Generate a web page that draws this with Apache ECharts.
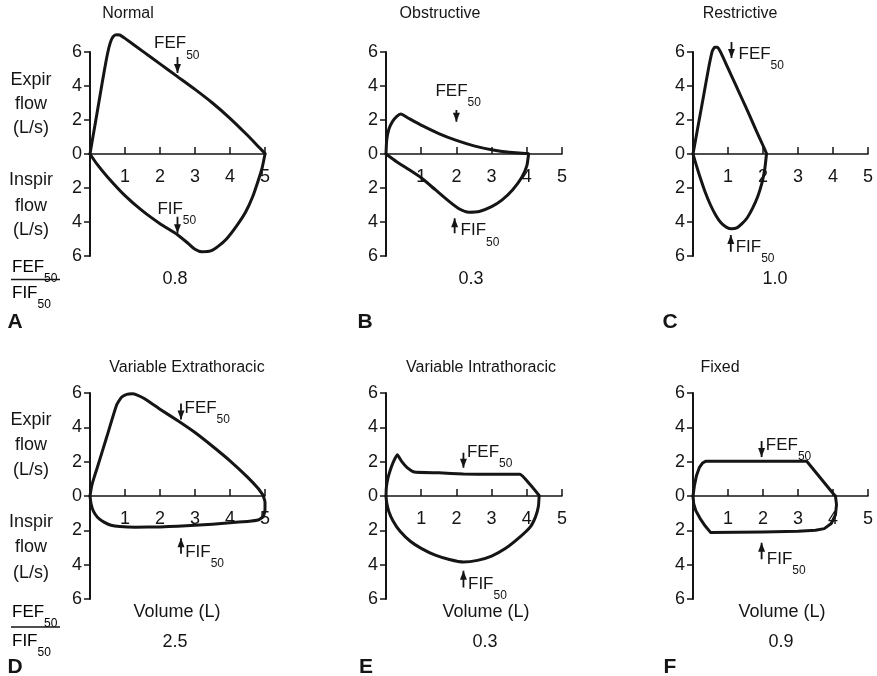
<!DOCTYPE html>
<html><head><meta charset="utf-8">
<script src="https://cdn.jsdelivr.net/npm/echarts@6/dist/echarts.min.js"></script>
<style>html,body{margin:0;padding:0;background:#fff}#c{width:877px;height:676px}</style>
</head><body><div id="c"></div>
<script>
// ---------- data ----------
const panelTitles = ['Normal', 'Obstructive', 'Restrictive', 'Variable Extrathoracic', 'Variable Intrathoracic', 'Fixed'];
const panelLetters = ['A', 'B', 'C', 'D', 'E', 'F'];
const ratioValues = ['0.8', '0.3', '1.0', '2.5', '0.3', '0.9'];
const volumeTicks = [1, 2, 3, 4, 5];
const flowTicks = [-6, -4, -2, 0, 2, 4, 6];

// expiratory (positive) and inspiratory (negative) limbs: [volume L, flow L/s]
const expNormal = [[0,0],[0.1,1.2],[0.2,2.4],[0.3,3.6],[0.4,4.8],[0.5,5.9],[0.58,6.55],[0.66,6.9],[0.75,7.02],[0.85,7.0],[1.0,6.8],[1.5,6.05],[2.0,5.3],[2.5,4.55],[3.0,3.8],[3.5,3.0],[4.0,2.1],[4.5,1.1],[4.85,0.35],[5.0,0.03]];
const inspNormal = [[0,0],[0.2,-0.6],[0.5,-1.35],[1.0,-2.45],[1.5,-3.35],[2.0,-4.1],[2.5,-4.75],[2.8,-5.25],[3.0,-5.6],[3.2,-5.75],[3.45,-5.7],[3.65,-5.45],[3.9,-5.0],[4.2,-4.2],[4.45,-3.4],[4.65,-2.5],[4.8,-1.6],[4.92,-0.8],[5.0,0]];
const expObstructive = [[0,0],[0.02,0.8],[0.08,1.45],[0.18,1.9],[0.3,2.2],[0.42,2.35],[0.6,2.15],[0.8,1.92],[1.0,1.7],[1.5,1.2],[2.0,0.8],[2.5,0.48],[3.0,0.25],[3.5,0.1],[4.0,0.03],[4.05,0]];
const inspObstructive = [[0,0],[0.3,-0.45],[0.6,-0.85],[1.0,-1.4],[1.4,-2.1],[1.8,-2.8],[2.1,-3.25],[2.35,-3.42],[2.65,-3.38],[3.0,-3.1],[3.3,-2.7],[3.6,-2.1],[3.85,-1.4],[4.0,-0.7],[4.05,0]];
const expRestrictive = [[0,0],[0.15,1.7],[0.3,3.4],[0.45,5.1],[0.55,6.05],[0.62,6.28],[0.7,6.28],[0.8,5.95],[1.0,5.05],[1.2,4.15],[1.4,3.25],[1.6,2.35],[1.8,1.4],[2.0,0.5],[2.1,0.03]];
const inspRestrictive = [[0,0],[0.1,-0.7],[0.2,-1.35],[0.35,-2.25],[0.5,-3.0],[0.65,-3.6],[0.8,-4.05],[0.95,-4.3],[1.1,-4.4],[1.25,-4.35],[1.4,-4.1],[1.55,-3.75],[1.7,-3.2],[1.85,-2.5],[1.97,-1.7],[2.05,-0.9],[2.1,0]];
const expExtrathoracic = [[0,0],[0.05,0.6],[0.12,1.1],[0.2,1.6],[0.48,3.45],[0.76,5.3],[0.9,5.75],[1.05,5.92],[1.2,5.95],[1.35,5.88],[1.55,5.68],[2.0,5.05],[2.5,4.4],[3.0,3.7],[3.5,2.9],[4.0,2.05],[4.5,1.1],[4.8,0.45],[4.95,0.03]];
const inspExtrathoracic = [[0,0],[0.03,-0.45],[0.1,-0.9],[0.22,-1.25],[0.4,-1.52],[0.6,-1.7],[0.85,-1.78],[1.3,-1.82],[2.0,-1.8],[2.5,-1.76],[3.0,-1.71],[3.5,-1.64],[4.0,-1.56],[4.5,-1.48],[4.8,-1.4],[4.95,-1.2],[5.0,-0.8],[5.0,-0.35],[4.95,0]];
const expIntrathoracic = [[0,0],[0.01,0.5],[0.05,1.0],[0.12,1.5],[0.2,1.95],[0.32,2.4],[0.45,2.0],[0.6,1.65],[0.8,1.4],[1.5,1.35],[2.2,1.28],[3.0,1.26],[3.8,1.26],[4.1,0.65],[4.35,0.03]];
const inspIntrathoracic = [[0,0],[0.02,-0.4],[0.08,-0.9],[0.2,-1.45],[0.4,-2.05],[0.7,-2.65],[1.0,-3.05],[1.4,-3.45],[1.8,-3.7],[2.2,-3.85],[2.6,-3.75],[3.0,-3.5],[3.4,-3.05],[3.8,-2.4],[4.1,-1.8],[4.25,-1.2],[4.33,-0.6],[4.35,0]];
const expFixed = [[0,0],[0.04,0.6],[0.1,1.2],[0.18,1.65],[0.27,1.92],[0.36,2.02],[3.25,2.02],[4.05,0.03]];
const inspFixed = [[0,0],[0.02,-0.45],[0.08,-0.85],[0.2,-1.3],[0.35,-1.75],[0.5,-2.12],[2.0,-2.1],[3.0,-2.06],[3.5,-2.0],[3.75,-1.9],[3.95,-1.6],[4.07,-1.1],[4.1,-0.5],[4.07,0]];

// FEF50 / FIF50 marker arrows: [volume, tail flow, tip flow]
const fefArrows = [[2.5,5.7,4.76],[2.0,2.59,1.9],[1.1,6.59,5.65],[2.6,5.39,4.46],[2.2,2.52,1.65],[1.96,3.2,2.27]];
const fifArrows = [[2.5,-3.69,-4.66],[1.95,-4.66,-3.78],[1.08,-5.75,-4.76],[2.6,-3.37,-2.46],[2.2,-5.33,-4.36],[1.96,-3.68,-2.72]];

const expLimbs = [expNormal, expObstructive, expRestrictive, expExtrathoracic, expIntrathoracic, expFixed];
const inspLimbs = [inspNormal, inspObstructive, inspRestrictive, inspExtrathoracic, inspIntrathoracic, inspFixed];

// ---------- layout / style ----------
const FONT = "'Liberation Sans', Arial, Helvetica, sans-serif";
const INK = '#151515';
const grids = [
  {left:90, top:52, width:175, height:204},
  {left:386, top:52, width:176, height:204},
  {left:693, top:52, width:175, height:204},
  {left:90, top:393, width:175, height:206},
  {left:386, top:393, width:176, height:206},
  {left:693, top:393, width:175, height:206}
];
// label anchors (data coords) and placement for FEF50 / FIF50 texts
const fefLabelAt = [[2.48,6.57,'inside'],[2.05,3.76,'inside'],[1.3,5.98,'right'],[2.7,5.2,'right'],[2.3,2.66,'right'],[2.08,3.04,'right']];
const fifLabelAt = [[2.48,-3.14,'inside'],[2.12,-4.43,'right'],[1.22,-5.4,'right'],[2.72,-3.18,'right'],[2.33,-5.04,'right'],[2.11,-3.59,'right']];
const smoothing = [0.2,0.2,0.15,0.15,0.15,0];

const subRich = {
  m: {fontSize:17, lineHeight:26, verticalAlign:'top', fontFamily:FONT, color:INK},
  s: {fontSize:12, lineHeight:12, verticalAlign:'bottom', fontFamily:FONT, color:INK}
};

const xAxes = [], yAxes = [], series = [];
grids.forEach((g, i) => {
  xAxes.push({
    type:'value', gridIndex:i, min:0, max:5, interval:1, position:'bottom',
    offset: -g.height / 2,
    axisLine:{show:true, onZero:false, lineStyle:{color:INK, width:1.5}},
    axisTick:{show:true, inside:true, length:7, lineStyle:{color:INK, width:1.5}},
    axisLabel:{show:true, margin:14, fontSize:18, fontFamily:FONT, color:INK,
      formatter: v => volumeTicks.includes(v) ? String(v) : ''},
    splitLine:{show:false}
  });
  yAxes.push({
    type:'value', gridIndex:i, min:flowTicks[0], max:flowTicks[flowTicks.length-1], interval:2,
    axisLine:{show:true, onZero:false, lineStyle:{color:INK, width:2}},
    axisTick:{show:true, inside:false, length:6, lineStyle:{color:INK, width:1.5}},
    axisLabel:{show:true, margin:8, fontSize:18, fontFamily:FONT, color:INK,
      formatter: v => String(Math.abs(v))},
    splitLine:{show:false}
  });
  [expLimbs[i], inspLimbs[i]].forEach(limb => {
    series.push({
      type:'line', xAxisIndex:i, yAxisIndex:i, data:limb, showSymbol:false, symbol:'none',
      smooth:smoothing[i], clip:false, silent:true, z:3,
      lineStyle:{color:INK, width:3, cap:'round', join:'round'}
    });
  });
  [fefArrows[i], fifArrows[i]].forEach(a => {
    const down = a[2] < a[1];
    series.push({
      type:'line', xAxisIndex:i, yAxisIndex:i, clip:false, silent:true, z:4,
      showSymbol:true, showAllSymbol:true,
      lineStyle:{color:INK, width:1.8},
      itemStyle:{color:INK},
      data:[
        {value:[a[0], a[1]], symbol:'none'},
        {value:[a[0], a[2]], symbol:'triangle', symbolSize:[7,9], symbolRotate: down ? 180 : 0,
         symbolOffset:[0, down ? -4.5 : 4.5]}
      ]
    });
  });
  [[fefLabelAt[i], '{m|FEF}{s|50}'], [fifLabelAt[i], '{m|FIF}{s|50}']].forEach(([p, txt]) => {
    series.push({
      type:'scatter', xAxisIndex:i, yAxisIndex:i, clip:false, silent:true, z:5,
      symbolSize:0, itemStyle:{color:INK, opacity:1},
      data:[{value:[p[0], p[1]]}],
      label:{show:true, position:p[2], distance:0, offset:[0, 6], color:INK, opacity:1,
        formatter:txt, rich:subRich}
    });
  });
});

// ---------- text outside the plots ----------
const graphics = [];
function txt(text, x, y, size, opts) {
  graphics.push({type:'text', silent:true, style:Object.assign({
    text, x, y, font:(opts && opts.bold ? 'bold ' : '') + size + 'px ' + FONT,
    fill:INK, textAlign:'center', align:'center', textVerticalAlign:'middle', verticalAlign:'middle'
  }, opts && opts.style)});
}
const titlePos = [[128,14],[440,14],[740,14],[187,368],[481,368],[720,368]];
panelTitles.forEach((t, i) => txt(t, titlePos[i][0], titlePos[i][1], 16));
const letterPos = [[15,322],[365,322],[670,322],[15,667],[366,667],[670,667]];
panelLetters.forEach((t, i) => txt(t, letterPos[i][0], letterPos[i][1], 21, {bold:true}));
const ratioPos = [[175,279],[471,279],[775,279],[175,642],[485,642],[781,642]];
ratioValues.forEach((t, i) => txt(t, ratioPos[i][0], ratioPos[i][1], 18));
[[177,612],[486,612],[782,612]].forEach(p => txt('Volume (L)', p[0], p[1], 18));
[0, 1].forEach(k => {
  const rows = k === 0 ? [80,104,128,180,206,230] : [420,445,470,522,547,573];
  ['Expir','flow','(L/s)','Inspir','flow','(L/s)'].forEach((t, j) => txt(t, 31, rows[j], 18));
  const fy = k === 0 ? 271.5 : 617, ly = k === 0 ? 279.5 : 627, iy = k === 0 ? 297.5 : 646;
  graphics.push({type:'text', silent:true, style:{text:'{m|FEF}{s|50}', rich:subRich, x:12, y:fy,
    textAlign:'left', align:'left', textVerticalAlign:'middle', verticalAlign:'middle'}});
  graphics.push({type:'line', silent:true, shape:{x1:11, y1:ly, x2:60, y2:ly}, style:{stroke:INK, lineWidth:1.3}});
  graphics.push({type:'text', silent:true, style:{text:'{m|FIF}{s|50}', rich:subRich, x:12, y:iy,
    textAlign:'left', align:'left', textVerticalAlign:'middle', verticalAlign:'middle'}});
});

const chart = echarts.init(document.getElementById('c'));
chart.setOption({
  animation:false,
  backgroundColor:'#ffffff',
  grid:grids.map(g => Object.assign({containLabel:false}, g)),
  xAxis:xAxes, yAxis:yAxes, series, graphic:graphics
});
</script></body></html>
